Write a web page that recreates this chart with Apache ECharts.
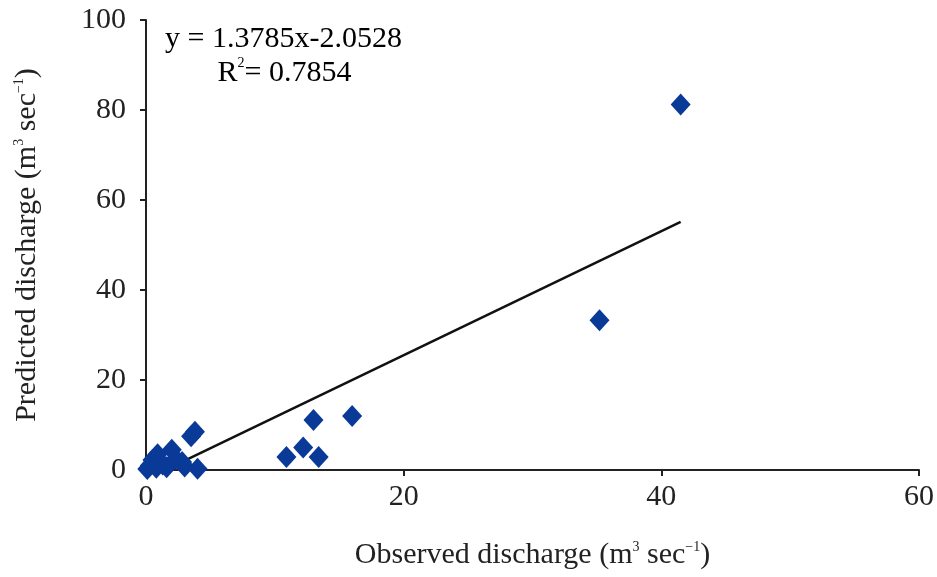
<!DOCTYPE html>
<html>
<head>
<meta charset="utf-8">
<script src="https://cdn.jsdelivr.net/npm/echarts@6/dist/echarts.min.js"></script>
<style>
    html, body { margin: 0; padding: 0; background: #fff; }
    #chart { width: 937px; height: 577px; }
</style>
</head>
<body>
<div id="chart"></div>
<script>
// observed vs predicted discharge
var observed  = [0.1, 0.3, 0.5, 0.9, 0.8, 1.3, 1.6, 2.0, 2.3, 2.8, 3.0, 3.5, 3.8, 4.0, 10.9, 12.2, 13.0, 13.4, 16.0, 35.2, 41.5];
var predicted = [0.2, 1.0, 2.2, 3.5, 0.5, 1.2, 0.6, 4.5, 2.5, 1.8, 0.8, 7.5, 8.5, 0.3, 2.9, 5.0, 11.1, 2.9, 12.0, 33.3, 81.2];
var xTicks = [0, 20, 40, 60];
var yTicks = [0, 20, 40, 60, 80, 100];
var slope = 1.3785, intercept = -2.0528;

var points = observed.map(function (x, i) { return [x, predicted[i]]; });
var xMin = Math.min.apply(null, observed), xMax = Math.max.apply(null, observed);
var trend = [[xMin, slope * xMin + intercept], [xMax, slope * xMax + intercept]];

var font = '"Liberation Serif", "Times New Roman", serif';
var ink = '#222';
var unitRich = {
    t: { fontFamily: font, fontSize: 30, color: ink },
    s: { fontFamily: font, fontSize: 14, color: ink, verticalAlign: 'top', lineHeight: 30 }
};
// equation box, a bit more line spacing
var eqRich = {
    t: { fontFamily: font, fontSize: 30, color: ink, lineHeight: 34 },
    s: { fontFamily: font, fontSize: 14, color: ink, verticalAlign: 'top', lineHeight: 30 }
};

var myChart = echarts.init(document.getElementById('chart'));
myChart.setOption({
    animation: false,
    grid: { left: 146, right: 12, top: 20, bottom: 107 },
    xAxis: {
        type: 'value', min: 0, max: 60, interval: 20,
        name: '{t|Observed discharge (m}{s|3}{t| sec}{s|−1}{t|)}',
        nameLocation: 'middle', nameGap: 70,
        nameTextStyle: { rich: unitRich },
        axisLine: { lineStyle: { color: ink, width: 2 } },
        axisTick: { show: true, length: 6, lineStyle: { color: ink, width: 2 } },
        axisLabel: { fontFamily: font, fontSize: 30, color: ink, margin: 12 },
        splitLine: { show: false }
    },
    yAxis: {
        type: 'value', min: 0, max: 100, interval: 20,
        name: '{t|Predicted discharge (m}{s|3}{t| sec}{s|−1}{t|)}',
        nameLocation: 'middle', nameGap: 104, nameRotate: 90,
        nameTextStyle: { rich: unitRich },
        axisLine: { show: true, lineStyle: { color: ink, width: 2 } },
        axisTick: { show: true, length: 6, lineStyle: { color: ink, width: 2 } },
        axisLabel: { fontFamily: font, fontSize: 30, color: ink, margin: 20 },
        splitLine: { show: false }
    },
    graphic: [{
        type: 'text', left: 165, top: 24,
        style: {
            text: '{t|y = 1.3785x-2.0528}\n{t|       R}{s|2}{t|= 0.7854}',
            rich: eqRich
        }
    }],
    series: [{
        type: 'line',
        data: trend,
        symbol: 'none',
        clip: true,
        lineStyle: { color: '#111', width: 2.5 },
        z: 1
    }, {
        type: 'scatter',
        data: points,
        symbol: 'diamond',
        symbolSize: [20, 22],
        itemStyle: { color: '#0a3a98', opacity: 1 },
        z: 2
    }]
});
</script>
</body>
</html>
